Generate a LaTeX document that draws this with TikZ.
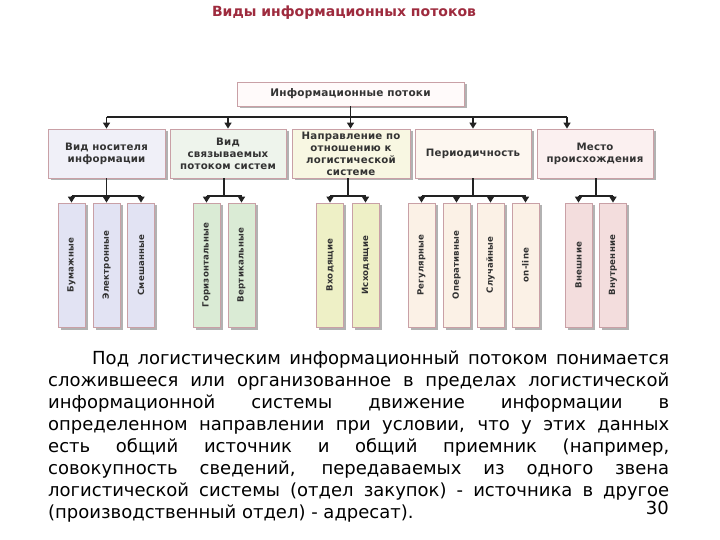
\documentclass[tikz,border=0pt]{standalone}
\usepackage{fontspec}
\setmainfont{DejaVu Sans}
\newfontfamily\boxfont[LetterSpace=2]{DejaVu Sans Bold}
\usetikzlibrary{arrows.meta,shadows}
\definecolor{bord}{HTML}{C9A0A6}
\definecolor{titlec}{HTML}{9E2B3E}
\definecolor{txt}{HTML}{333333}
\definecolor{linec}{HTML}{222222}
\definecolor{topfill}{HTML}{FFFAFA}
\definecolor{cfa}{HTML}{F0F0F8}\definecolor{lfa}{HTML}{E2E3F3}
\definecolor{cfb}{HTML}{EEF4EC}\definecolor{lfb}{HTML}{DAEBD5}
\definecolor{cfc}{HTML}{F8F7E2}\definecolor{lfc}{HTML}{EEF0C6}
\definecolor{cfd}{HTML}{FDF7F0}\definecolor{lfd}{HTML}{FBF1E6}
\definecolor{cfe}{HTML}{FBF0F0}\definecolor{lfe}{HTML}{F3DDDD}
\tikzset{
  shad/.style={drop shadow={shadow xshift=2.5pt,shadow yshift=-2.5pt,fill=black!30,opacity=1}},
  topbox/.style={draw=bord, line width=0.8pt, fill=topfill, minimum width=227pt, minimum height=24pt, inner sep=0pt, font=\boxfont\fontsize{10.5}{12}\selectfont, text=txt, shad},
  catbox/.style={draw=bord, line width=0.8pt, minimum width=117pt, minimum height=49pt, inner sep=0pt, align=center, font=\boxfont\fontsize{10.2}{12}\selectfont, text=txt, shad},
  leafbox/.style={draw=bord, line width=0.8pt, minimum width=27pt, minimum height=124pt, inner sep=0pt, shad},
  leaftext/.style={rotate=90, inner sep=0pt, font=\boxfont\fontsize{8.6}{9}\selectfont, text=txt},
  conn/.style={line width=1.6pt, draw=linec},
  arr/.style={conn, -{Triangle[length=6pt,width=7pt]}},
}
\begin{document}
\begin{tikzpicture}[x=1pt,y=-1pt]
\useasboundingbox[fill=white] (0,0) rectangle (720,540);
% title
\node[font=\fontsize{14}{16}\selectfont\bfseries, text=titlec, inner sep=0pt] (title) at (344,13) {Виды информационных потоков};
% top node
\node[topbox] (top) at (350.5,94) {Информационные потоки};
% categories
\node[catbox, fill=cfa] (c1) at (106.5,153.5) {Вид носителя\\информации};
\node[catbox, fill=cfb, minimum width=116pt] (c2) at (228,153.5) {Вид\\связываемых\\потоком систем};
\node[catbox, fill=cfc, minimum width=118pt] (c3) at (351,153.5) {Направление по\\отношению к\\логистической\\системе};
\node[catbox, fill=cfd, minimum width=116pt] (c4) at (473,153.5) {Периодичность};
\node[catbox, fill=cfe, minimum width=116pt] (c5) at (595,153.5) {Место\\происхождения};
% leaves
\node[leafbox, fill=lfa] (l1) at (71.5,265) {};
\node[leafbox, fill=lfa] (l2) at (106.5,265) {};
\node[leafbox, fill=lfa] (l3) at (141,265) {};
\node[leafbox, fill=lfb] (l4) at (206.5,265) {};
\node[leafbox, fill=lfb] (l5) at (241.5,265) {};
\node[leafbox, fill=lfc] (l6) at (330,265) {};
\node[leafbox, fill=lfc] (l7) at (365.5,265) {};
\node[leafbox, fill=lfd] (l8) at (421.5,265) {};
\node[leafbox, fill=lfd] (l9) at (456.5,265) {};
\node[leafbox, fill=lfd] (l10) at (490.5,265) {};
\node[leafbox, fill=lfd] (l11) at (525.5,265) {};
\node[leafbox, fill=lfe] (l12) at (578.5,265) {};
\node[leafbox, fill=lfe] (l13) at (613,265) {};
\node[leaftext] (t1) at (l1) {Бумажные};
\node[leaftext] (t2) at (l2) {Электронные};
\node[leaftext] (t3) at (l3) {Смешанные};
\node[leaftext] (t4) at (l4) {Горизонтальные};
\node[leaftext] (t5) at (l5) {Вертикальные};
\node[leaftext] (t6) at (l6) {Входящие};
\node[leaftext] (t7) at (l7) {Исходящие};
\node[leaftext] (t8) at (l8) {Регулярные};
\node[leaftext] (t9) at (l9) {Оперативные};
\node[leaftext] (t10) at (l10) {Случайные};
\node[leaftext] (t11) at (l11) {on-line};
\node[leaftext] (t12) at (l12) {Внешние};
\node[leaftext] (t13) at (l13) {Внутренние};
% top bus
\coordinate (tj) at (350.5,117);
\coordinate (tb1) at (106.5,117);
\coordinate (tb2) at (228,117);
\coordinate (tb5) at (567,117);
\coordinate (tb4) at (473,117);
\draw[conn] (top.south) -- (tj);
\draw[conn] (tb1) -- (tb5);
\draw[arr] (tb1) -- (tb1 |- c1.north);
\draw[arr] (tb2) -- (tb2 |- c2.north);
\draw[arr] (tj) -- (tj |- c3.north);
\draw[arr] (tb4) -- (tb4 |- c4.north);
\draw[arr] (tb5) -- (tb5 |- c5.north);
% child buses
\coordinate (j1) at (106.5,196);
\coordinate (j2) at (224,196);
\coordinate (j3) at (348,196);
\coordinate (j4) at (473,196);
\coordinate (j5) at (596,196);
\draw[conn] (j1 |- c1.south) -- (j1);
\draw[conn] (j2 |- c2.south) -- (j2);
\draw[conn] (j3 |- c3.south) -- (j3);
\draw[conn] (j4 |- c4.south) -- (j4);
\draw[conn] (j5 |- c5.south) -- (j5);
\draw[conn] (l1.north |- j1) -- (l3.north |- j1);
\draw[conn] (l4.north |- j2) -- (l5.north |- j2);
\draw[conn] (l6.north |- j3) -- (l7.north |- j3);
\draw[conn] (l8.north |- j4) -- (l11.north |- j4);
\draw[conn] (l12.north |- j5) -- (l13.north |- j5);
\foreach \l/\j in {l1/j1,l2/j1,l3/j1,l4/j2,l5/j2,l6/j3,l7/j3,l8/j4,l9/j4,l10/j4,l11/j4,l12/j5,l13/j5}
  \draw[arr] (\l.north |- \j) -- (\l.north);
% paragraph
\node[anchor=base west, inner sep=0pt] (para) at (48,364) {\parbox[t]{621pt}{\fontsize{18}{22}\selectfont
\makebox[621pt][s]{\hspace*{44pt}Под логистическим информационный потоком понимается}\par
\makebox[621pt][s]{сложившееся или организованное в пределах логистической}\par
\makebox[621pt][s]{информационной системы движение информации в}\par
\makebox[621pt][s]{определенном направлении при условии, что у этих данных}\par
\makebox[621pt][s]{есть общий источник и общий приемник (например,}\par
\makebox[621pt][s]{совокупность сведений, передаваемых из одного звена}\par
\makebox[621pt][s]{логистической системы (отдел закупок) - источника в другое}\par
(производственный отдел) - адресат).}};
\node[anchor=base east, inner sep=0pt, font=\fontsize{18}{22}\selectfont] (pg) at (669,514) {30};
\end{tikzpicture}
\end{document}
